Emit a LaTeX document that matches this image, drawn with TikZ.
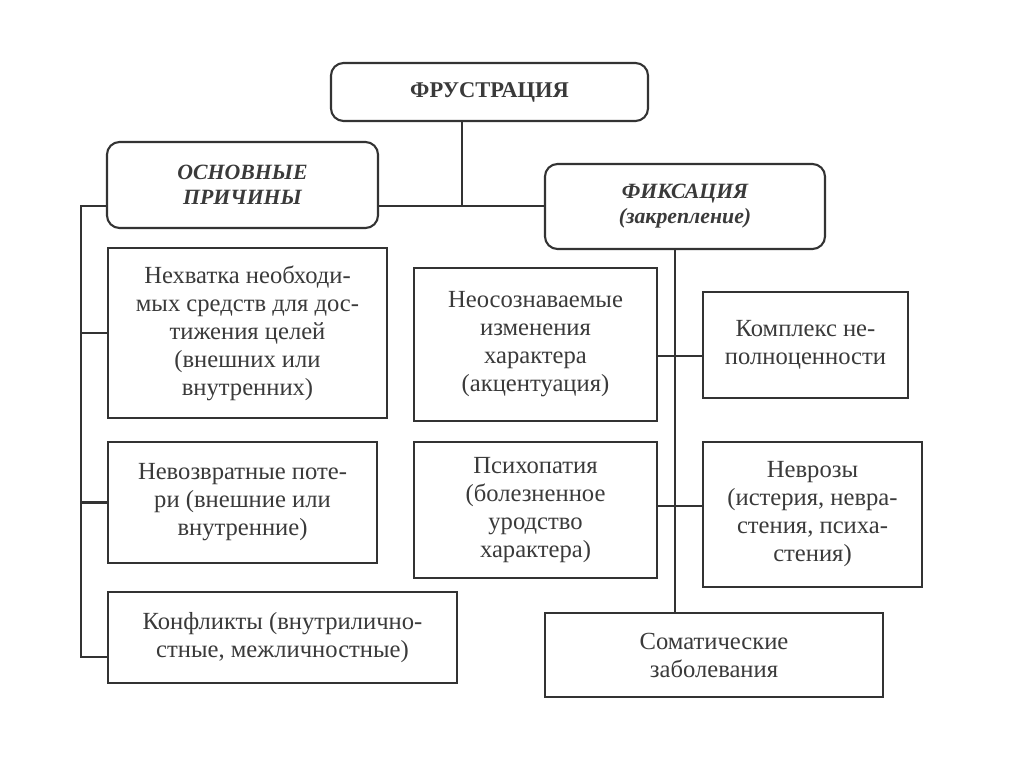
\documentclass[tikz,border=0pt]{standalone}
\usepackage{fontspec}
\setmainfont{Liberation Serif}
\usetikzlibrary{positioning}
\definecolor{inkgray}{HTML}{333333}
\definecolor{txtgray}{HTML}{3A3A3A}
\tikzstyle{head}  = [draw=inkgray, line width=1.5pt, rounded corners=9pt, align=center, text=txtgray, inner sep=0pt, font=\fontsize{15.5}{17.8}\selectfont\bfseries\itshape]
\tikzstyle{item}  = [draw=inkgray, line width=1.5pt, align=center, text=txtgray, inner sep=0pt, font=\fontsize{17.5}{19.9}\selectfont]
\tikzstyle{link}  = [draw=inkgray, line width=1.5pt]

\begin{document}
\begin{tikzpicture}[x=0.025cm, y=-0.025cm]

\fill[white] (0,0) rectangle (1024,767);

% headers
\node[head, font=\fontsize{16}{19}\selectfont\bfseries, minimum width=7.925cm, minimum height=1.45cm] (frust) at (489.5,92) {ФРУСТРАЦИЯ};
\node[head, minimum width=6.775cm, minimum height=2.15cm] (osnov) at (242.5,185) {ОСНОВНЫЕ\\ПРИЧИНЫ};
\node[head, minimum width=7cm, minimum height=2.125cm] (fix) at (685,206.5) {ФИКСАЦИЯ\\(закрепление)};

% causes
\node[item, minimum width=6.975cm, minimum height=4.25cm] (need) at (247.5,333) {Нехватка необходи-\\мых средств для дос-\\тижения целей\\(внешних или\\внутренних)};
\node[item, minimum width=6.725cm, minimum height=3.025cm] (loss) at (242.5,502.5) {Невозвратные поте-\\ри (внешние или\\внутренние)};
\node[item, minimum width=8.725cm, minimum height=2.275cm] (confl) at (282.5,637.5) {Конфликты (внутрилично-\\стные, межличностные)};

% consequences
\node[item, minimum width=6.075cm, minimum height=3.825cm] (unaware) at (535.5,344.5) {Неосознаваемые\\изменения\\характера\\(акцентуация)};
\node[item, minimum width=6.075cm, minimum height=3.4cm] (psycho) at (535.5,510) {Психопатия\\(болезненное\\уродство\\характера)};
\node[item, minimum width=5.125cm, minimum height=2.65cm] (complex) at (805.5,345) {Комплекс не-\\полноценности};
\node[item, minimum width=5.475cm, minimum height=3.625cm] (neuro) at (812.5,514.5) {Неврозы\\(истерия, невра-\\стения, психа-\\стения)};
\node[item, minimum width=8.45cm, minimum height=2.1cm] (soma) at (714,655) {Соматические\\заболевания};

\coordinate (jTop) at (462,206);
\coordinate (jL)   at (81,206);
\coordinate (jLc)  at (81,657);
\coordinate (jR1)  at (675,356);
\coordinate (jR2)  at (675,506);

\draw[link] (jTop |- frust.south) -- (jTop);
\draw[link] (osnov.east |- jTop) -- (fix.west |- jTop);

\draw[link] (osnov.west |- jL) -- (jL) -- (jLc) -- (confl.west |- jLc);
\draw[link] (jL |- need.west) -- (need.west);
\draw[link] (jL |- loss.west) -- (loss.west);

\draw[link] (jR1 |- fix.south) -- (jR1 |- soma.north);
\draw[link] (unaware.east |- jR1) -- (complex.west |- jR1);
\draw[link] (psycho.east |- jR2) -- (neuro.west |- jR2);

\end{tikzpicture}
\end{document}
